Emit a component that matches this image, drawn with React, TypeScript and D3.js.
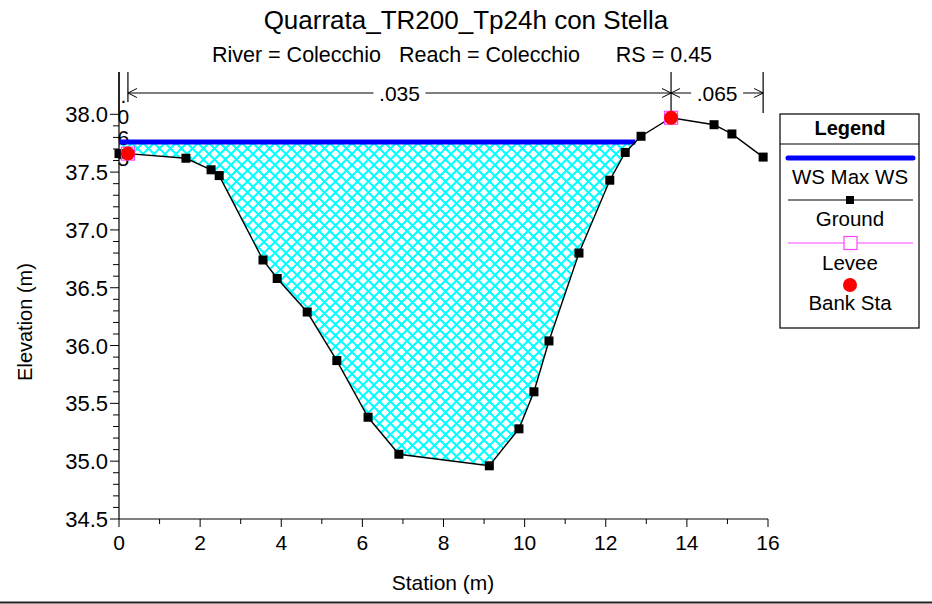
import { useMemo } from 'react'
import { scaleLinear, line, range } from 'd3'

// HEC-RAS style cross section: ground, max water surface, bank stations, n-value dimension lines.

const groundStation = [0, 0.22, 1.65, 2.27, 2.47, 3.55, 3.9, 4.64, 5.37, 6.14, 6.9, 9.13, 9.86, 10.23, 10.6, 11.34, 12.1, 12.48, 12.87, 13.61, 14.67, 15.11, 15.88]
const groundElev = [37.66, 37.66, 37.62, 37.52, 37.47, 36.74, 36.58, 36.29, 35.87, 35.38, 35.06, 34.96, 35.28, 35.6, 36.04, 36.8, 37.43, 37.67, 37.81, 37.97, 37.91, 37.83, 37.63]
const wsElev = 37.76
const bankStation = [0.22, 13.61]
const bankElev = [37.66, 37.97]
const nBreaks = [0, 0.22, 13.61, 15.88]
const nValues = ['.065', '.035', '.065']
const xTicks = [0, 2, 4, 6, 8, 10, 12, 14, 16]
const yTicks = [34.5, 35.0, 35.5, 36.0, 36.5, 37.0, 37.5, 38.0]

const W = 932
const H = 604
const PLOT = { left: 119, right: 768, top: 72, bottom: 519 }
const FONT = '"Liberation Sans", Arial, Helvetica, sans-serif'

export default function App() {
  const x = useMemo(() => scaleLinear().domain([0, 16]).range([PLOT.left, PLOT.right]), [])
  const y = useMemo(() => scaleLinear().domain([34.5, 38.0]).range([PLOT.bottom, 114.3]), [])

  const pts = groundStation.map((s, i) => [s, groundElev[i]] as [number, number])

  // where the water surface meets the ground on the right side
  let wsEnd = groundStation[groundStation.length - 1]
  let wsEndIdx = pts.length - 1
  for (let i = 1; i < pts.length; i++) {
    const [s0, e0] = pts[i - 1]
    const [s1, e1] = pts[i]
    if (s0 > 6 && e0 <= wsElev && e1 > wsElev) {
      wsEnd = s0 + ((wsElev - e0) / (e1 - e0)) * (s1 - s0)
      wsEndIdx = i
      break
    }
  }
  const fillPts: [number, number][] = [[0, wsElev], [wsEnd, wsElev]]
  for (let i = wsEndIdx - 1; i >= 0; i--) fillPts.push(pts[i])

  const lineGen = line<[number, number]>().x((d) => x(d[0])).y((d) => y(d[1]))
  const fillPath = lineGen(fillPts) + 'Z'

  const minorX = range(0, 17, 1)
  const minorY = range(0, 36).map((i) => 34.5 + i * 0.1)

  const dimY = 93
  const arrow = (px: number, dir: number) =>
    `M${px + dir * 9},${dimY - 4.5} L${px},${dimY} L${px + dir * 9},${dimY + 4.5}`

  return (
    <svg width={W} height={H} style={{ position: 'absolute', left: 0, top: 0, background: '#fff' }} fontFamily={FONT}>
      <defs>
        <pattern id="hatch" width={11} height={11} patternUnits="userSpaceOnUse">
          <path d="M0,0 L11,11 M11,0 L0,11" stroke="#00ffff" strokeWidth={2} />
        </pattern>
      </defs>

      <text x={466} y={29} textAnchor="middle" fontSize={26}>Quarrata_TR200_Tp24h con Stella</text>
      <text x={462} y={62} textAnchor="middle" fontSize={21.5} style={{ whiteSpace: 'pre' }}>
        {'River = Colecchio   Reach = Colecchio      RS = 0.45'}
      </text>

      {/* water */}
      <path d={fillPath} fill="url(#hatch)" stroke="none" />

      {/* axes */}
      <line x1={PLOT.left} x2={PLOT.left} y1={PLOT.top} y2={PLOT.bottom} stroke="#000" strokeWidth={1.2} />
      <line x1={PLOT.left} x2={PLOT.right} y1={PLOT.bottom} y2={PLOT.bottom} stroke="#000" strokeWidth={1.2} />
      {minorX.map((v) => (
        <line key={'mx' + v} x1={x(v)} x2={x(v)} y1={PLOT.bottom} y2={PLOT.bottom + (v % 2 === 0 ? 8 : 5)} stroke="#000" />
      ))}
      {minorY.map((v, i) => (
        <line key={'my' + i} x1={PLOT.left} x2={PLOT.left - (i % 5 === 0 ? 9 : 6)} y1={y(v)} y2={y(v)} stroke="#000" />
      ))}
      {xTicks.map((v) => (
        <text key={'xt' + v} x={x(v)} y={550} textAnchor="middle" fontSize={21}>{v}</text>
      ))}
      {yTicks.map((v) => (
        <text key={'yt' + v} x={108} y={y(v) + 8} textAnchor="end" fontSize={22}>{v.toFixed(1)}</text>
      ))}
      <text x={443} y={590} textAnchor="middle" fontSize={21}>Station (m)</text>
      <text transform={`translate(32,322) rotate(-90)`} textAnchor="middle" fontSize={20}>Elevation (m)</text>

      {/* n-value dimension lines */}
      {nBreaks.map((s, i) => (
        <line key={'nb' + i} x1={x(s)} x2={x(s)} y1={PLOT.top} y2={i === 1 ? 102 : 113} stroke="#000" strokeWidth={1.2} />
      ))}
      {nValues.map((n, i) => {
        const a = x(nBreaks[i])
        const b = x(nBreaks[i + 1])
        if (b - a < 40) {
          return (
            <g key={'nv' + i}>
              {n.split('').map((c, j) => (
                <text key={j} x={(a + b) / 2} y={103 + j * 21} textAnchor="middle" fontSize={21}>{c}</text>
              ))}
            </g>
          )
        }
        const mid = (a + b) / 2
        const half = 26
        return (
          <g key={'nv' + i} stroke="#000" strokeWidth={1} fill="none">
            <line x1={a} x2={mid - half} y1={dimY} y2={dimY} />
            <line x1={mid + half} x2={b} y1={dimY} y2={dimY} />
            <path d={arrow(a, 1)} />
            <path d={arrow(b, -1)} />
            <text x={mid} y={dimY + 8} textAnchor="middle" fontSize={21} fill="#000" stroke="none">{n}</text>
          </g>
        )
      })}

      {/* water surface */}
      <line x1={x(0)} x2={x(wsEnd)} y1={y(wsElev)} y2={y(wsElev)} stroke="#0000ff" strokeWidth={5} />

      {/* ground */}
      <path d={lineGen(pts) ?? ''} fill="none" stroke="#000" strokeWidth={1.4} />
      {pts.map((p, i) => (
        <rect key={'g' + i} x={x(p[0]) - 4.5} y={y(p[1]) - 4.5} width={9} height={9} fill="#000" />
      ))}

      {/* levee + bank stations */}
      {bankStation.map((s, i) => (
        <g key={'b' + i}>
          <rect x={x(s) - 6.5} y={y(bankElev[i]) - 6.5} width={13} height={13} fill="none" stroke="#ff44ff" strokeWidth={1.2} />
          <circle cx={x(s)} cy={y(bankElev[i])} r={7} fill="#ff0000" />
        </g>
      ))}

      {/* legend */}
      <g>
        <rect x={780} y={114} width={139} height={214} fill="#fff" stroke="#000" strokeWidth={1.2} />
        <line x1={780} x2={919} y1={144} y2={144} stroke="#000" strokeWidth={1.2} />
        <text x={850} y={135} textAnchor="middle" fontSize={20} fontWeight="bold">Legend</text>
        <line x1={788} x2={913} y1={158} y2={158} stroke="#0000ff" strokeWidth={5} strokeLinecap="round" />
        <text x={850} y={184} textAnchor="middle" fontSize={20.5}>WS Max WS</text>
        <line x1={788} x2={913} y1={200} y2={200} stroke="#000" strokeWidth={1.2} />
        <rect x={846} y={196} width={8} height={8} fill="#000" />
        <text x={850} y={226} textAnchor="middle" fontSize={20.5}>Ground</text>
        <line x1={788} x2={913} y1={243} y2={243} stroke="#ff44ff" strokeWidth={1.2} />
        <rect x={844} y={236.5} width={13} height={13} fill="#fff" stroke="#ff44ff" strokeWidth={1.2} />
        <text x={850} y={270} textAnchor="middle" fontSize={20.5}>Levee</text>
        <circle cx={850} cy={285} r={7} fill="#ff0000" />
        <text x={850} y={310} textAnchor="middle" fontSize={20.5}>Bank Sta</text>
      </g>

      <line x1={0} x2={W} y1={602.5} y2={602.5} stroke="#222" strokeWidth={2} />
    </svg>
  )
}
